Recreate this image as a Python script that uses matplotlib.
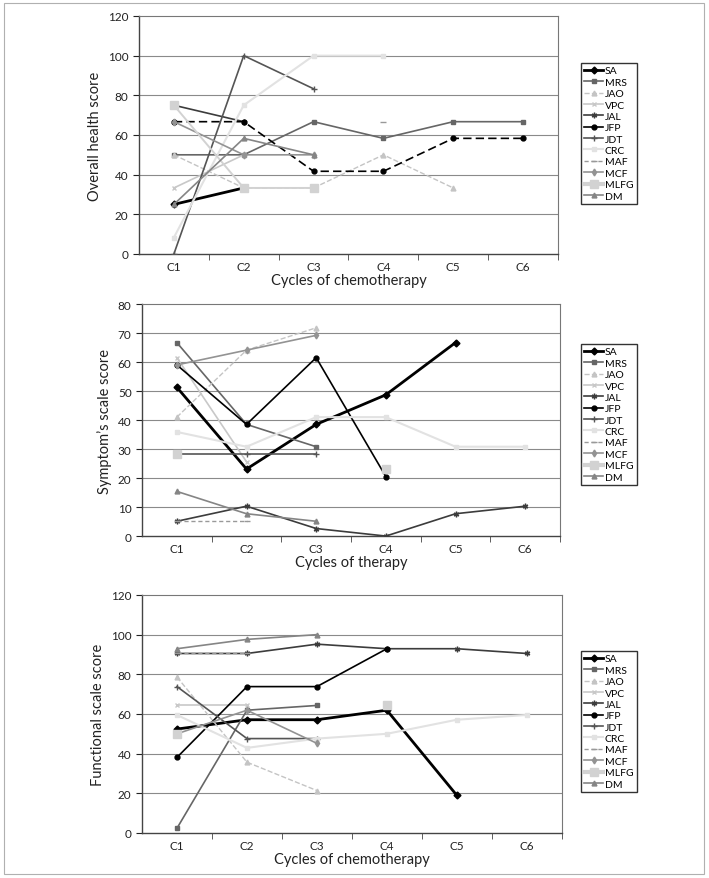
import matplotlib
matplotlib.use("Agg")
import matplotlib.pyplot as plt
import numpy as np
from matplotlib.patches import Rectangle

plt.rcParams['font.family'] = ['Lato', 'DejaVu Sans']

nan = np.nan
cycles = ['C1', 'C2', 'C3', 'C4', 'C5', 'C6']
names = ['SA', 'MRS', 'JAO', 'VPC', 'JAL', 'JFP', 'JDT', 'CRC', 'MAF', 'MCF', 'MLFG', 'DM']

# overall health score
health = {
    'SA':   [25, 33.3, nan, nan, nan, nan],
    'MRS':  [50, 50, 66.7, 58.3, 66.7, 66.7],
    'JAO':  [50, 33.3, 33.3, 50, 33.3, nan],
    'VPC':  [33.3, 50, nan, nan, nan, nan],
    'JAL':  [75, 66.7, nan, nan, nan, nan],
    'JFP':  [66.7, 66.7, 41.7, 41.7, 58.3, 58.3],
    'JDT':  [0, 100, 83.3, nan, nan, nan],
    'CRC':  [8.3, 75, 100, 100, nan, nan],
    'MAF':  [nan, nan, nan, 66.7, nan, nan],
    'MCF':  [66.7, 50, 50, nan, nan, nan],
    'MLFG': [75, 33.3, 33.3, nan, nan, nan],
    'DM':   [25, 58.3, 50, nan, nan, nan],
}

# symptom's scale score
symptom = {
    'SA':   [51.3, 23.1, 38.5, 48.7, 66.7, nan],
    'MRS':  [66.7, 38.5, 30.8, nan, nan, nan],
    'JAO':  [41.0, 64.1, 71.8, nan, nan, nan],
    'VPC':  [61.5, 25.6, nan, nan, nan, nan],
    'JAL':  [5.1, 10.3, 2.6, 0, 7.7, 10.3],
    'JFP':  [59.0, 38.5, 61.5, 20.5, nan, nan],
    'JDT':  [28.2, 28.2, 28.2, nan, nan, nan],
    'CRC':  [35.9, 30.8, 41.0, 41.0, 30.8, 30.8],
    'MAF':  [5.1, 5.1, nan, nan, nan, nan],
    'MCF':  [59.0, 64.1, 69.2, nan, nan, nan],
    'MLFG': [28.2, nan, nan, 23.1, nan, nan],
    'DM':   [15.4, 7.7, 5.1, nan, nan, nan],
}

# functional scale score
functional = {
    'SA':   [52.4, 57.1, 57.1, 61.9, 19.0, nan],
    'MRS':  [2.4, 61.9, 64.3, nan, nan, nan],
    'JAO':  [78.6, 35.7, 21.4, nan, nan, nan],
    'VPC':  [64.3, 64.3, nan, nan, nan, nan],
    'JAL':  [90.5, 90.5, 95.2, 92.9, 92.9, 90.5],
    'JFP':  [38.1, 73.8, 73.8, 92.9, nan, nan],
    'JDT':  [73.8, 47.6, 47.6, nan, nan, nan],
    'CRC':  [59.5, 42.9, 47.6, 50.0, 57.1, 59.5],
    'MAF':  [90.5, 90.5, nan, nan, nan, nan],
    'MCF':  [50.0, 61.9, 45.2, nan, nan, nan],
    'MLFG': [50.0, nan, nan, 64.3, nan, nan],
    'DM':   [92.9, 97.6, 100, nan, nan, nan],
}

styles = {
    'SA':   dict(color='black', lw=2.0, marker='D', ms=3.5),
    'MRS':  dict(color='#666666', lw=1.2, marker='s', ms=3.5),
    'JAO':  dict(color='#c4c4c4', lw=1.0, ls='--', marker='^', ms=3.5),
    'VPC':  dict(color='#c8c8c8', lw=1.2, marker='x', ms=3.5),
    'JAL':  dict(color='#3c3c3c', lw=1.2, marker=(6, 2, 0), ms=4),
    'JFP':  dict(color='black', lw=1.2, marker='o', ms=3.5),
    'JDT':  dict(color='#555555', lw=1.2, marker='+', ms=5),
    'CRC':  dict(color='#e2e2e2', lw=1.5, marker='s', ms=3),
    'MAF':  dict(color='#999999', lw=1.0, ls=(0, (3, 2)), marker='_', ms=5),
    'MCF':  dict(color='#939393', lw=1.2, marker='d', ms=3.5),
    'MLFG': dict(color='#d2d2d2', lw=1.4, marker='s', ms=5.5),
    'DM':   dict(color='#858585', lw=1.2, marker='^', ms=3.5),
}

panels = [
    (health, 120, 20, 'Overall health score', 'Cycles of chemotherapy',
     [0.196, 0.7099, 0.591, 0.2708], 1 - 64 / 879, True),
    (symptom, 80, 10, 'Symptom\u2019s scale score', 'Cycles of therapy',
     [0.2003, 0.389, 0.5896, 0.264], 1 - 345 / 879, False),
    (functional, 120, 20, 'Functional scale score', 'Cycles of chemotherapy',
     [0.2003, 0.0512, 0.592, 0.2708], 1 - 652 / 879, False),
]

fig = plt.figure(figsize=(7.09, 8.79), dpi=100)
fig.patches.append(Rectangle((0.006, 0.005), 0.987, 0.99, transform=fig.transFigure,
                             fill=False, edgecolor='#b0b0b0', lw=0.8))

x = np.arange(1, 7)
for data, ymax, step, ylab, xlab, pos, legtop, jfp_dash in panels:
    ax = fig.add_axes(pos)
    for ty in np.arange(step, ymax, step):
        ax.axhline(ty, color='#8a8a8a', lw=0.8, zorder=0)
    for n in names:
        st = dict(styles[n])
        if n == 'JFP' and jfp_dash:
            st['ls'] = (0, (5, 2.5))
        y = np.array(data[n], dtype=float)
        ax.plot(x, y, label=n, zorder=3, **st)
    # legend handles drawn with the plain series styles, thick for MLFG
    handles = []
    for n in names:
        st = dict(styles[n])
        if n == 'MLFG':
            st['lw'] = 3.0
        h, = ax.plot([], [], label=n, **st)
        handles.append(h)
    ax.set_xlim(0.5, 6.5)
    ax.set_ylim(0, ymax)
    ax.set_yticks(np.arange(0, ymax + 1, step))
    ax.set_xticks(x)
    ax.set_xticklabels(cycles)
    ax.set_xticks(np.arange(1.5, 6.6, 1), minor=True)
    ax.tick_params(axis='x', which='major', length=0, labelsize=8.5, pad=5, colors='#222222')
    ax.tick_params(axis='x', which='minor', length=4, direction='out', color='#444444')
    ax.tick_params(axis='y', length=4, direction='out', labelsize=8.5, colors='#222222')
    for s in ['left', 'bottom']:
        ax.spines[s].set_color('#444444')
        ax.spines[s].set_linewidth(1.0)
    for s in ['top', 'right']:
        ax.spines[s].set_color('#777777')
        ax.spines[s].set_linewidth(0.8)
    ax.set_ylabel(ylab, fontsize=10.5, labelpad=4, color='#222222')
    ax.set_xlabel(xlab, fontsize=10.5, labelpad=1, color='#222222')
    fig.legend(handles=handles, loc='upper left', bbox_to_anchor=(581 / 709, legtop),
               fontsize=7.5, frameon=True, fancybox=False, edgecolor='#333333',
               labelspacing=0.2, handlelength=1.8, handletextpad=0.2,
               borderpad=0.3, borderaxespad=0, framealpha=1)

fig.savefig("out.png", dpi=100)
